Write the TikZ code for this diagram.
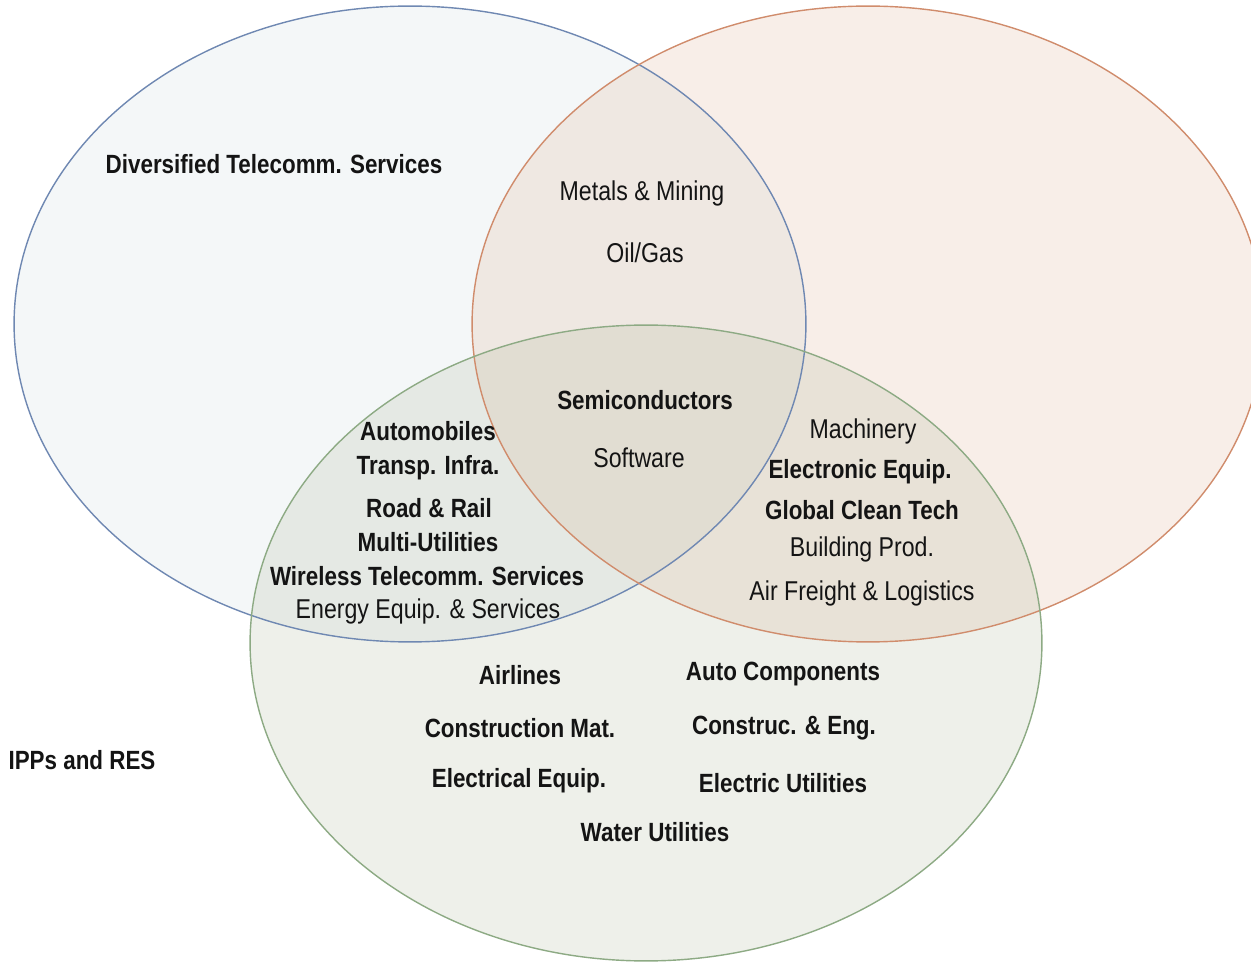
\documentclass[tikz,border=0pt]{standalone}
\usepackage{fontspec}
\setmainfont{Liberation Sans}[FakeStretch=0.85]
\usepackage{xcolor}
\usepackage{tikz}
\usetikzlibrary{positioning}
\definecolor{vnblue}{HTML}{6F88B2}
\definecolor{vnorange}{HTML}{D08C6C}
\definecolor{vngreen}{HTML}{8DAA84}
\definecolor{vnbluefill}{RGB}{200,215,220}
\definecolor{vnorangefill}{RGB}{220,170,140}
\definecolor{vngreenfill}{RGB}{170,180,150}
\definecolor{vnink}{HTML}{141414}

\begin{document}
\begin{tikzpicture}[
  x=0.02cm, y=-0.02cm,
  font=\fontsize{15.5}{17}\selectfont,
  lbl/.style={text=vnink,inner sep=1pt,anchor=center},
  blbl/.style={lbl,font=\fontsize{15}{17}\selectfont\bfseries},
  ring/.style={line width=0.8pt},
]
\useasboundingbox (0,0) rectangle (1251,962);
\clip (0,0) rectangle (1251,962);

% set fills
\fill[vnbluefill,fill opacity=0.2] (410,324) ellipse [x radius=7.92cm, y radius=6.36cm];
\fill[vnorangefill,fill opacity=0.2] (868,324) ellipse [x radius=7.92cm, y radius=6.36cm];
\fill[vngreenfill,fill opacity=0.2] (646,643) ellipse [x radius=7.92cm, y radius=6.36cm];
% set outlines
\draw[ring,vnblue] (410,324) ellipse [x radius=7.92cm, y radius=6.36cm];
\draw[ring,vnorange] (868,324) ellipse [x radius=7.92cm, y radius=6.36cm];
\draw[ring,vngreen] (646,643) ellipse [x radius=7.92cm, y radius=6.36cm];

\node[blbl] (divtel) at (274,164) {Diversified Telecomm. Services};
\node[lbl] (metals) at (642,193) {Metals \& Mining};
\node[lbl] (oilgas) at (645,253) {Oil/Gas};
\node[blbl] (semi) at (645,400) {Semiconductors};
\node[lbl] (soft) at (639,458) {Software};

\node[blbl] (auto) at (428,431) {Automobiles};
\node[blbl] (transp) at (428,468) {Transp. Infra.};
\node[blbl] (road) at (429,508) {Road \& Rail};
\node[blbl] (multi) at (428,542) {Multi-Utilities};
\node[blbl] (wirel) at (427,576) {Wireless Telecomm. Services};
\node[lbl] (energy) at (428,611) {Energy Equip. \& Services};

\node[lbl] (mach) at (863,431) {Machinery};
\node[blbl] (elecq) at (860,472) {Electronic Equip.};
\node[blbl] (clean) at (862,510) {Global Clean Tech};
\node[lbl] (build) at (862,549) {Building Prod.};
\node[lbl] (air) at (862,593) {Air Freight \& Logistics};

\node[blbl] (airl) at (520,675) {Airlines};
\node[blbl] (autoc) at (783,674) {Auto Components};
\node[blbl] (cmat) at (520,728) {Construction Mat.};
\node[blbl] (ceng) at (784,728) {Construc. \& Eng.};
\node[blbl] (eeq) at (519,781) {Electrical Equip.};
\node[blbl] (eutil) at (783,783) {Electric Utilities};
\node[blbl] (water) at (655,832) {Water Utilities};

\node[blbl] (ipps) at (82,760) {IPPs and RES};

\end{tikzpicture}
\end{document}
